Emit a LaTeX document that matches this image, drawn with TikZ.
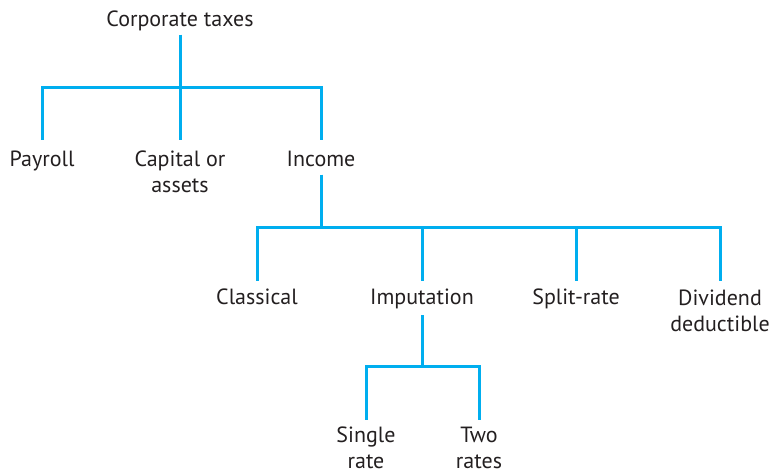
\documentclass[tikz,border=0pt]{standalone}
\usepackage{fontspec}
\setmainfont{PT Sans}
\definecolor{cyanline}{HTML}{00AEEF}
\definecolor{inkgray}{HTML}{231F20}

\begin{document}
\begin{tikzpicture}[x=1pt,y=-1pt,
  main/.style = {anchor=base, align=center, inner sep=0pt, text=inkgray, font=\fontsize{22}{26}\selectfont},
  link/.style = {draw=cyanline, line width=3pt}]
\useasboundingbox (0,0) rectangle (774,473);
% two-line nodes sit on the baseline of their last line
\node[main] (1) at (180,27) {Corporate taxes};
\node[main] (2) at (42,167) {Payroll};
\node[main] (3) at (180,193) {Capital or\\assets};
\node[main] (4) at (321,167) {Income};
\node[main] (5) at (257,305) {Classical};
\node[main] (6) at (422,305) {Imputation};
\node[main] (7) at (576,305) {Split-rate};
\node[main] (8) at (720,331) {Dividend\\deductible};
\node[main] (9) at (366,468) {Single\\rate};
\node[main] (10) at (479,468) {Two\\rates};
\draw[link] (1.base) ++(0,8) -- ++(0,53) -| ([yshift=27pt]2.base);
\draw[link] (1.base) ++(0,8) -- ++(0,53) -| ([yshift=53pt]3.base);
\draw[link] (1.base) ++(0,8) -- ++(0,53) -| ([yshift=27pt]4.base);
\draw[link] (4.base) ++(0,8) -- ++(0,53) -| ([yshift=24.5pt]5.base);
\draw[link] (4.base) ++(0,8) -- ++(0,53) -| ([yshift=24.5pt]6.base);
\draw[link] (4.base) ++(0,8) -- ++(0,53) -| ([yshift=24.5pt]7.base);
\draw[link] (4.base) ++(0,8) -- ++(0,53) -| ([yshift=50.5pt]8.base);
\draw[link] (6.base) ++(0,10) -- ++(0,51) -| ([yshift=48.5pt]9.base);
\draw[link] (6.base) ++(0,10) -- ++(0,51) -| ([yshift=48.5pt]10.base);
\end{tikzpicture}
\end{document}
